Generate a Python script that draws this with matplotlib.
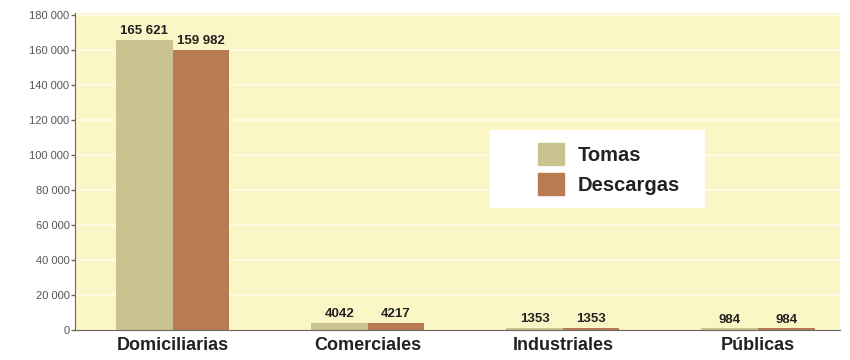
import numpy as np
import matplotlib
matplotlib.use("Agg")
import matplotlib.pyplot as plt
from matplotlib.patches import Patch, Rectangle

categorias = ["Domiciliarias", "Comerciales", "Industriales", "Públicas"]
tomas = [165621, 4042, 1353, 984]
descargas = [159982, 4217, 1353, 984]
etiquetas_tomas = ["165 621", "4042", "1353", "984"]
etiquetas_descargas = ["159 982", "4217", "1353", "984"]
yticks = [0, 20000, 40000, 60000, 80000, 100000, 120000, 140000, 160000, 180000]
ytick_labels = ["0", "20 000", "40 000", "60 000", "80 000", "100 000",
                "120 000", "140 000", "160 000", "180 000"]

c_tomas = "#C9C48F"
c_desc = "#B97B52"

plt.rcParams['font.family'] = ['Liberation Sans', 'DejaVu Sans']

fig = plt.figure(figsize=(8.5, 3.6), dpi=100)
ax = fig.add_axes([75/850, 30/360, 765/850, 317/360])
ax.set_facecolor("#FBF6C6")

x = np.arange(len(categorias))
w = 0.29
b1 = ax.bar(x - w/2, tomas, w, color=c_tomas, zorder=2)
b2 = ax.bar(x + w/2, descargas, w, color=c_desc, zorder=2)

for rect, lab in zip(b1, etiquetas_tomas):
    ax.text(rect.get_x() + rect.get_width()/2, rect.get_height() + 1500, lab,
            ha="center", va="bottom", fontsize=9.5, fontweight="bold", color="#222222")
for rect, lab in zip(b2, etiquetas_descargas):
    ax.text(rect.get_x() + rect.get_width()/2, rect.get_height() + 1500, lab,
            ha="center", va="bottom", fontsize=9.5, fontweight="bold", color="#222222")

# líneas de guía claras
for t in yticks[1:]:
    ax.axhline(t, color="#FFFDE8", lw=1.2, zorder=1)

ax.set_xlim(-0.5, 3.42)
ax.set_ylim(0, 181000)
ax.set_yticks(yticks)
ax.set_yticklabels(ytick_labels, fontsize=8, color="#555555")
ax.set_xticks(x)
ax.set_xticklabels(categorias, fontsize=13, fontweight="bold", color="#222222")
ax.tick_params(axis="x", length=0, pad=5)
ax.tick_params(axis="y", length=3, width=1, color="#666666", pad=1)

for s in ["top", "right"]:
    ax.spines[s].set_visible(False)
ax.spines["left"].set_color("#666666")
ax.spines["bottom"].set_color("#666666")

# recuadro blanco de la leyenda
fig.patches.append(Rectangle((490/850, 152/360), 215/850, 78/360,
                             transform=fig.transFigure, facecolor="white",
                             edgecolor="none", zorder=4))

handles = [Patch(color=c_tomas, label="Tomas"), Patch(color=c_desc, label="Descargas")]
leg = fig.legend(handles=handles, loc="upper left",
                 bbox_to_anchor=(538/850, 1 - 143/360),
                 frameon=False, handlelength=1.3, handleheight=1.3,
                 borderpad=0, labelspacing=0.4, handletextpad=0.65,
                 prop={"weight": "bold", "size": 14.5}, borderaxespad=0)
leg.set_zorder(5)
for t in leg.get_texts():
    t.set_color("#222222")

fig.savefig("out.png", dpi=100, facecolor="white")
